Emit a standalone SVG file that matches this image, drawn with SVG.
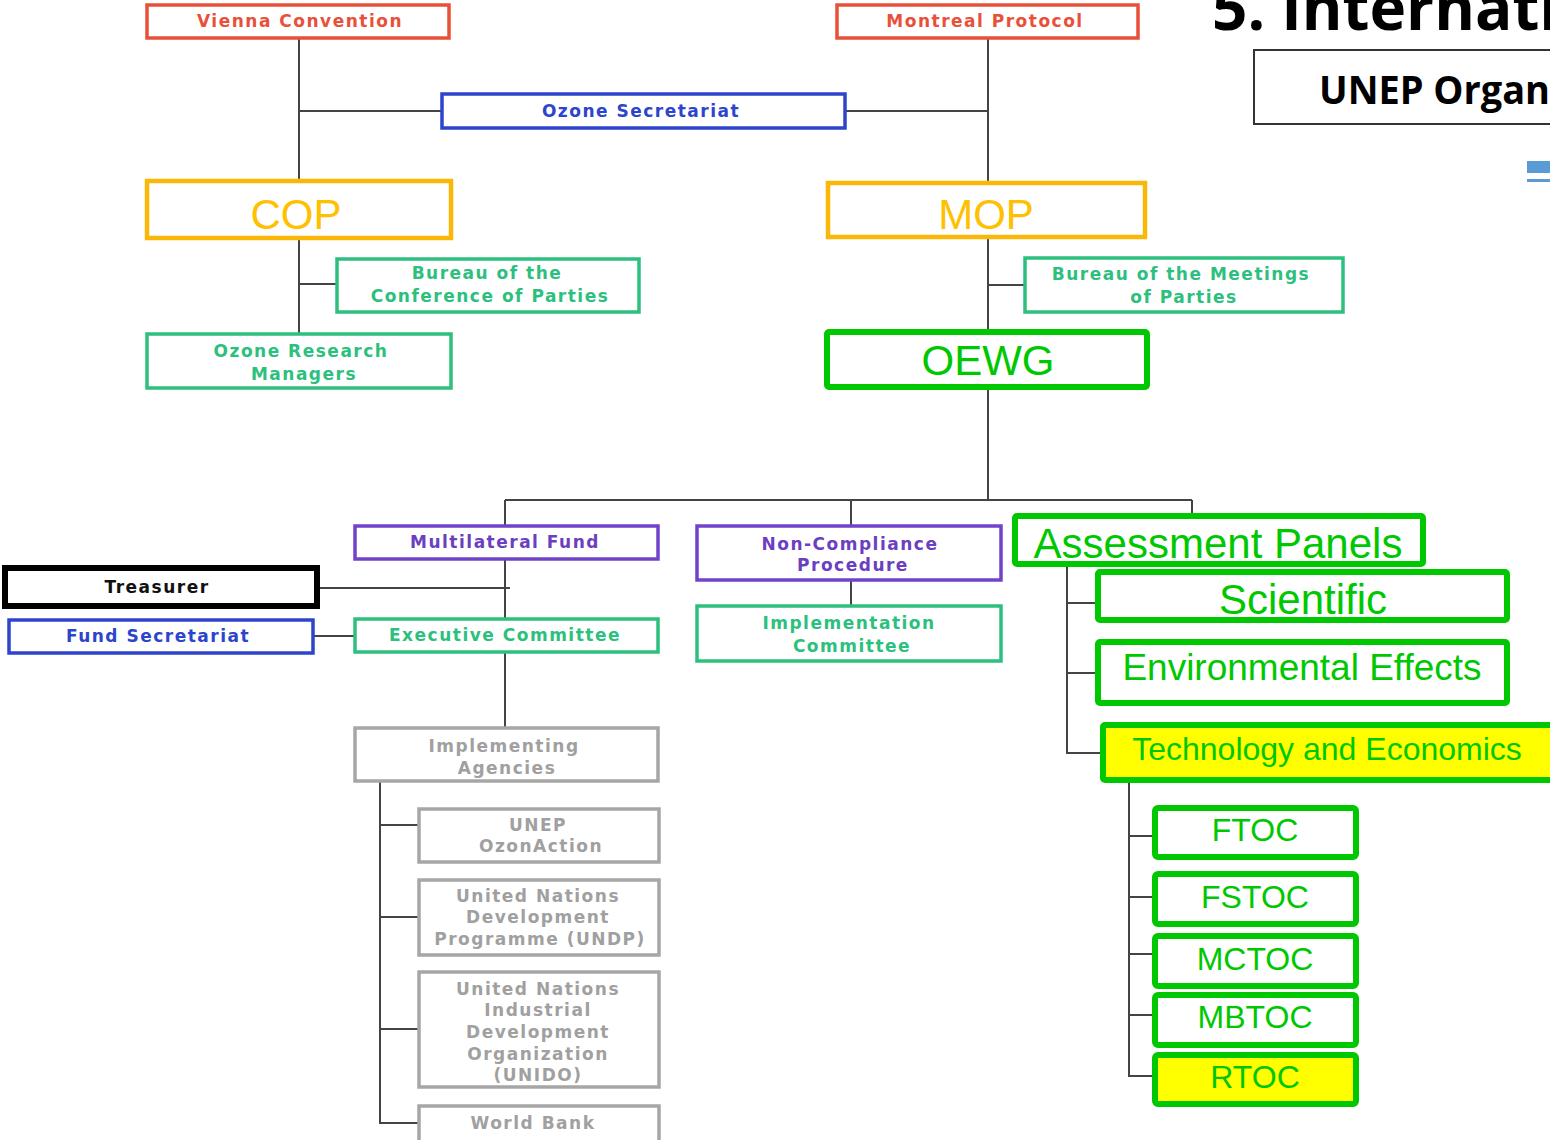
<svg xmlns="http://www.w3.org/2000/svg" width="1550" height="1140" viewBox="0 0 1550 1140">
<style>
.bg{fill:#ffffff}
.box{fill:#ffffff;stroke-width:3.5}
.red{stroke:#e9503a}
.blue{stroke:#2d44cc}
.teal{stroke:#2dbf7e}
.purple{stroke:#7043c9}
.gray{stroke:#a6a6a6}
.blk{stroke:#000000;stroke-width:6}
.org{fill:#ffffff;stroke:#f9b707;stroke-width:4.5}
.grn{fill:#ffffff;stroke:#00c800;stroke-width:6}
.yel{fill:#ffff00}
.s{font-family:"DejaVu Sans",sans-serif;font-weight:bold;font-size:17px;letter-spacing:1.5px;text-anchor:middle}
.tred{fill:#e9503a}
.tblue{fill:#2d44cc}
.tteal{fill:#2dbf7e}
.tpur{fill:#6b3fc0}
.tgray{fill:#a0a0a0}
.tblk{fill:#111111}
.b{font-family:"Liberation Sans",Arial,sans-serif;text-anchor:middle}
.tor{fill:#ffc000}
.tg{fill:#00c800}
.c{fill:none;stroke:#444444;stroke-width:2}
.h{font-family:"Open Sans","Noto Sans",sans-serif;font-weight:bold;fill:#000000}
</style>
<rect class="bg" x="0" y="0" width="1550" height="1140"/>

<g id="connectors">
<path class="c" d="M299 38V181M299 111H442M988 38V183M845 111H988"/>
<path class="c" d="M299 238V334M299 284H337"/>
<path class="c" d="M988 237V332M988 285H1025"/>
<path class="c" d="M988 387V500M505 500H1192M505 500V526M851 500V526M1192 500V516"/>
<path class="c" d="M505 559V619M317 588H510M313 636H355M505 652V728"/>
<path class="c" d="M380 781V1123H419M380 825H419M380 917H419M380 1029H419"/>
<path class="c" d="M851 580V606"/>
<path class="c" d="M1067 564V753H1103M1067 603H1098M1067 673H1098"/>
<path class="c" d="M1129 780V1076H1155M1129 836H1155M1129 897H1155M1129 954H1155M1129 1015H1155"/>
</g>

<g id="title">
<text class="h" x="1212" y="30" font-size="62">5. Internati</text>
</g>
<g id="unep-org">
<rect x="1254" y="50" width="310" height="74" fill="#ffffff" stroke="#333333" stroke-width="2"/>
<text class="h" x="1319" y="104" font-size="40" textLength="231" lengthAdjust="spacingAndGlyphs">UNEP Organ</text>
</g>
<g id="blue-mark">
<rect x="1527" y="161" width="23" height="12" fill="#5b9bd5"/>
<rect x="1527" y="179" width="23" height="3" fill="#5b9bd5"/>
</g>

<g id="vienna"><rect class="box red" x="147" y="5" width="302" height="33"/><text class="s tred" x="300" y="27">Vienna Convention</text></g>
<g id="montreal"><rect class="box red" x="837" y="5" width="301" height="33"/><text class="s tred" x="985" y="27">Montreal Protocol</text></g>
<g id="ozone-sec"><rect class="box blue" x="442" y="94" width="403" height="34"/><text class="s tblue" x="641" y="117">Ozone Secretariat</text></g>
<g id="cop"><rect class="org" x="147" y="181" width="304" height="57"/><text class="b tor" x="296" y="229" font-size="42">COP</text></g>
<g id="mop"><rect class="org" x="828" y="183" width="317" height="54"/><text class="b tor" x="986" y="229" font-size="42">MOP</text></g>
<g id="bureau-cop"><rect class="box teal" x="337" y="259" width="302" height="53"/><text class="s tteal" x="487" y="279">Bureau of the</text><text class="s tteal" x="490" y="302">Conference of Parties</text></g>
<g id="orm"><rect class="box teal" x="147" y="334" width="304" height="54"/><text class="s tteal" x="301" y="357">Ozone Research</text><text class="s tteal" x="304" y="380">Managers</text></g>
<g id="bureau-mop"><rect class="box teal" x="1025" y="258" width="318" height="54"/><text class="s tteal" x="1181" y="280">Bureau of the Meetings</text><text class="s tteal" x="1184" y="303">of Parties</text></g>
<g id="oewg"><rect class="grn" x="827" y="332" width="320" height="55" rx="2"/><text class="b tg" x="988" y="375" font-size="42">OEWG</text></g>

<g id="mlf"><rect class="box purple" x="355" y="526" width="303" height="33"/><text class="s tpur" x="505" y="548">Multilateral Fund</text></g>
<g id="ncp"><rect class="box purple" x="697" y="526" width="304" height="54"/><text class="s tpur" x="850" y="550">Non-Compliance</text><text class="s tpur" x="853" y="571">Procedure</text></g>
<g id="impl-com"><rect class="box teal" x="697" y="606" width="304" height="55"/><text class="s tteal" x="849" y="629">Implementation</text><text class="s tteal" x="852" y="652">Committee</text></g>
<g id="treasurer"><rect class="box blk" x="5" y="568" width="312" height="38"/><text class="s tblk" x="157" y="593">Treasurer</text></g>
<g id="fund-sec"><rect class="box blue" x="9" y="620" width="304" height="33"/><text class="s tblue" x="158" y="642">Fund Secretariat</text></g>
<g id="exec-com"><rect class="box teal" x="355" y="619" width="303" height="33"/><text class="s tteal" x="505" y="641">Executive Committee</text></g>
<g id="impl-ag"><rect class="box gray" x="355" y="728" width="303" height="53"/><text class="s tgray" x="504" y="752">Implementing</text><text class="s tgray" x="507" y="774">Agencies</text></g>
<g id="unep-oa"><rect class="box gray" x="419" y="809" width="240" height="53"/><text class="s tgray" x="538" y="831">UNEP</text><text class="s tgray" x="541" y="852">OzonAction</text></g>
<g id="undp"><rect class="box gray" x="419" y="880" width="240" height="75"/><text class="s tgray" x="538" y="902">United Nations</text><text class="s tgray" x="538" y="923">Development</text><text class="s tgray" x="540" y="945" letter-spacing="0.9">Programme (UNDP)</text></g>
<g id="unido"><rect class="box gray" x="419" y="972" width="240" height="115"/><text class="s tgray" x="538" y="995">United Nations</text><text class="s tgray" x="538" y="1016">Industrial</text><text class="s tgray" x="538" y="1038">Development</text><text class="s tgray" x="538" y="1060">Organization</text><text class="s tgray" x="538" y="1081">(UNIDO)</text></g>
<g id="wb"><rect class="box gray" x="419" y="1106" width="240" height="40"/><text class="s tgray" x="533" y="1129">World Bank</text></g>

<g id="assess"><rect class="grn" x="1015" y="516" width="408" height="48" rx="2"/><text class="b tg" x="1218" y="558" font-size="42">Assessment Panels</text></g>
<g id="sci"><rect class="grn" x="1098" y="572" width="409" height="48" rx="2"/><text class="b tg" x="1303" y="614" font-size="42">Scientific</text></g>
<g id="env"><rect class="grn" x="1098" y="642" width="409" height="61" rx="2"/><text class="b tg" x="1302" y="680" font-size="37">Environmental Effects</text></g>
<g id="tech"><rect class="grn yel" x="1103" y="725" width="460" height="55" rx="2"/><text class="b tg" x="1327" y="760" font-size="32">Technology and Economics</text></g>
<g id="ftoc"><rect class="grn" x="1155" y="808" width="201" height="49" rx="3"/><text class="b tg" x="1255" y="841" font-size="32">FTOC</text></g>
<g id="fstoc"><rect class="grn" x="1155" y="874" width="201" height="50" rx="3"/><text class="b tg" x="1255" y="908" font-size="32">FSTOC</text></g>
<g id="mctoc"><rect class="grn" x="1155" y="936" width="201" height="50" rx="3"/><text class="b tg" x="1255" y="970" font-size="32">MCTOC</text></g>
<g id="mbtoc"><rect class="grn" x="1155" y="995" width="201" height="50" rx="3"/><text class="b tg" x="1255" y="1028" font-size="32">MBTOC</text></g>
<g id="rtoc"><rect class="grn yel" x="1155" y="1055" width="201" height="49" rx="3"/><text class="b tg" x="1255" y="1088" font-size="32">RTOC</text></g>
</svg>
